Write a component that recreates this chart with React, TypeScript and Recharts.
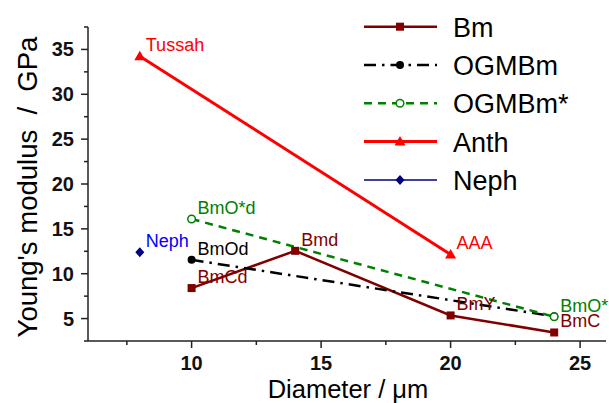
import { LineChart, Line, XAxis, YAxis, Legend, LabelList } from "recharts";

const FONT = "'Liberation Sans', Arial, Helvetica, sans-serif";

// diameter (µm) / modulus (GPa) / point labels, one set per fibre
const bmDiameter = [10, 14, 20, 24];
const bmModulus = [8.4, 12.55, 5.35, 3.45];
const bmLabels = ["BmCd", "Bmd", "BmY", "BmC"];

const ogDiameter = [10, 24];
const ogModulus = [11.55, 5.25];
const ogLabels = ["BmOd", ""];

const ogsDiameter = [10, 24];
const ogsModulus = [16.1, 5.2];
const ogsLabels = ["BmO*d", "BmO*"];

const anthDiameter = [8, 20];
const anthModulus = [34.25, 12.15];
const anthLabels = ["Tussah", "AAA"];

const nephDiameter = [8];
const nephModulus = [12.4];
const nephLabels = ["Neph"];

const xTicks = [7.5, 10, 12.5, 15, 17.5, 20, 22.5, 25];
const yTicks = [2.5, 5, 7.5, 10, 12.5, 15, 17.5, 20, 22.5, 25, 27.5, 30, 32.5, 35, 37.5];

const build = (xs: number[], ys: number[], labels: string[]) =>
  xs.map((x, i) => ({ x, y: ys[i], label: labels[i] }));

type Shape = "square" | "circle" | "open" | "triangle" | "diamond";

function marker(shape: Shape, cx: number, cy: number, color: string, key?: string) {
  switch (shape) {
    case "square":
      return <rect key={key} x={cx - 4} y={cy - 4} width={8} height={8} fill={color} />;
    case "circle":
      return <circle key={key} cx={cx} cy={cy} r={4} fill={color} />;
    case "open":
      return <circle key={key} cx={cx} cy={cy} r={3.8} fill="#fff" stroke={color} strokeWidth={1.5} />;
    case "triangle":
      return (
        <polygon key={key} points={`${cx},${cy - 5.5} ${cx - 5.5},${cy + 4} ${cx + 5.5},${cy + 4}`} fill={color} />
      );
    default:
      return (
        <polygon key={key} points={`${cx},${cy - 5} ${cx + 4.5},${cy} ${cx},${cy + 5} ${cx - 4.5},${cy}`} fill={color} />
      );
  }
}

const series = [
  { name: "Bm", data: build(bmDiameter, bmModulus, bmLabels), color: "#800000", labelColor: "#800000", width: 2.5, dash: undefined, shape: "square" as Shape },
  { name: "OGMBm", data: build(ogDiameter, ogModulus, ogLabels), color: "#000000", labelColor: "#000000", width: 2.5, dash: "12 6 2.5 6", shape: "circle" as Shape },
  { name: "OGMBm*", data: build(ogsDiameter, ogsModulus, ogsLabels), color: "#008000", labelColor: "#008000", width: 2.5, dash: "8 6", shape: "open" as Shape },
  { name: "Anth", data: build(anthDiameter, anthModulus, anthLabels), color: "#ff0000", labelColor: "#ff0000", width: 3, dash: undefined, shape: "triangle" as Shape },
  { name: "Neph", data: build(nephDiameter, nephModulus, nephLabels), color: "#000080", labelColor: "#0000ff", width: 1.5, dash: undefined, shape: "diamond" as Shape },
];

const YTick = (props: any) => {
  const { x, y, payload } = props;
  const major = payload.value % 5 === 0;
  return (
    <g>
      <line x1={x - (major ? 7 : 4)} x2={x} y1={y} y2={y} stroke="#222" strokeWidth={1.5} />
      {major && payload.value < 37 && (
        <text x={x - 14} y={y + 7} textAnchor="end" fontSize={20} fontWeight="bold" fontFamily={FONT} fill="#111">
          {payload.value}
        </text>
      )}
    </g>
  );
};

const XTick = (props: any) => {
  const { x, y, payload } = props;
  const major = payload.value % 5 === 0;
  return (
    <g>
      <line x1={x} x2={x} y1={y} y2={y + (major ? 7 : 4)} stroke="#222" strokeWidth={1.5} />
      {major && (
        <text x={x} y={y + 29} textAnchor="middle" fontSize={20} fontWeight="bold" fontFamily={FONT} fill="#111">
          {payload.value}
        </text>
      )}
    </g>
  );
};

const renderLegend = () => (
  <svg width={254} height={200}>
    {series.map((s, i) => {
      const cy = 26.7 + i * 38.3;
      return (
        <g key={s.name}>
          <line x1={9} x2={82} y1={cy} y2={cy} stroke={s.color} strokeWidth={s.width} strokeDasharray={s.dash} />
          {marker(s.shape, 45, cy, s.color)}
          <text x={98} y={cy + 10} fontSize={27} fontFamily={FONT} fill="#000">
            {s.name}
          </text>
        </g>
      );
    })}
  </svg>
);

export default function App() {
  return (
    <div style={{ position: "absolute", left: 0, top: 0, background: "#fff" }}>
      <LineChart width={609} height={403} margin={{ top: 27, right: 3, bottom: 0, left: 0 }}>
        <XAxis
          type="number"
          dataKey="x"
          domain={[6, 26]}
          ticks={xTicks}
          interval={0}
          allowDataOverflow
          height={62}
          tickSize={0}
          tickMargin={0}
          tickLine={false}
          tick={<XTick />}
          axisLine={{ stroke: "#222", strokeWidth: 1.5 }}
          label={{
            content: () => (
              <text x={348} y={398} textAnchor="middle" fontSize={25.5} fontFamily={FONT} fill="#000">
                Diameter / μm
              </text>
            ),
          }}
        />
        <YAxis
          type="number"
          dataKey="y"
          domain={[2.5, 37.5]}
          ticks={yTicks}
          interval={0}
          allowDataOverflow
          width={88}
          tickSize={0}
          tickMargin={0}
          tickLine={false}
          tick={<YTick />}
          axisLine={{ stroke: "#222", strokeWidth: 1.5 }}
          label={{
            content: () => (
              <text
                x={37}
                y={187}
                transform="rotate(-90, 37, 187)"
                textAnchor="middle"
                fontSize={27.5}
                fontFamily={FONT}
                fill="#000"
                style={{ whiteSpace: "pre" }}
              >
                {"Young's modulus  /  GPa"}
              </text>
            ),
          }}
        />
        <Legend
          layout="horizontal"
          verticalAlign="middle"
          align="center"
          content={renderLegend}
          wrapperStyle={{ left: 355, top: 0, width: 254, height: 200 }}
        />
        {series.map((s) => (
          <Line
            key={s.name}
            name={s.name}
            data={s.data}
            dataKey="y"
            stroke={s.color}
            strokeWidth={s.width}
            strokeDasharray={s.dash}
            isAnimationActive={false}
            dot={(p: any) => marker(s.shape, p.cx, p.cy, s.color, `${s.name}-${p.index}`)}
            activeDot={false}
          >
            <LabelList
              dataKey="label"
              content={(p: any) => {
                const lx = p.x ?? p.viewBox?.x;
                const ly = p.y ?? p.viewBox?.y;
                if (!p.value) return null;
                return (
                  <text x={lx + 6} y={ly - 5} fontSize={18} fontFamily={FONT} fill={s.labelColor}>
                    {p.value}
                  </text>
                );
              }}
            />
          </Line>
        ))}
      </LineChart>
    </div>
  );
}
